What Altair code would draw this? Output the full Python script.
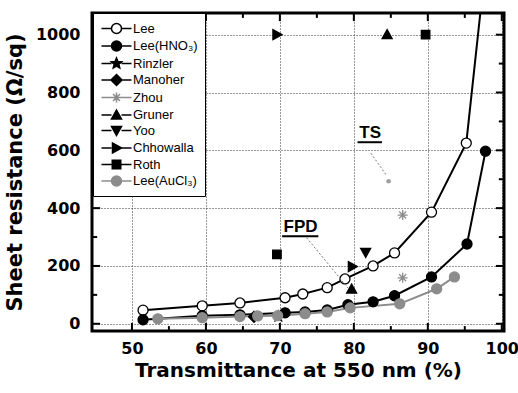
import altair as alt
import pandas as pd

# ---------------- data ----------------
series_names = ["Lee", "Lee(HNO₃)", "Rinzler", "Manoher", "Zhou", "Gruner",
                "Yoo", "Chhowalla", "Roth", "Lee(AuCl₃)"]

lee_x = [51.5, 59.5, 64.6, 70.7, 73.1, 76.4, 78.8, 82.6, 85.5, 90.5, 95.2, 97.5]
lee_y = [47, 62, 72, 90, 103, 125, 155, 200, 245, 386, 625, 1170]

hno3_x = [51.5, 59.5, 64.6, 70.7, 73.4, 76.4, 79.2, 82.6, 85.5, 90.5, 95.3, 97.8]
hno3_y = [14, 28, 31, 38, 41, 48, 66, 76, 97, 162, 276, 597]

aucl3_x = [53.5, 59.5, 64.6, 67.0, 69.7, 73.4, 76.4, 79.5, 86.2, 91.2, 93.6]
aucl3_y = [17, 21, 25, 27, 28, 35, 41, 55, 69, 121, 162]

rinzler_x = [69.8]
rinzler_y = [25]
manoher_x = [66.5]
manoher_y = [24]
zhou_x = [86.6, 86.6]
zhou_y = [376, 159]
gruner_x = [79.7, 84.5]
gruner_y = [120, 1000]
yoo_x = [81.6]
yoo_y = [247]
chhowalla_x = [69.6, 79.8]
chhowalla_y = [1000, 198]
roth_x = [69.6, 89.7]
roth_y = [240, 1000]

annot_text = ["TS", "FPD"]
annot_x = [82.2, 72.8]
annot_y = [659, 334]
underline_x = [80.5, 70.3]
underline_x2 = [83.8, 75.2]
underline_y = [628, 303]
leader_x = [82.3, 73.6]
leader_y = [590, 298]
leader_x2 = [84.4, 79.4]
leader_y2 = [514, 118]
ts_dot_x = [84.7]
ts_dot_y = [493]

x_domain = [44.6, 100.3]
y_domain = [-25, 1075]
x_major = [50, 60, 70, 80, 90, 100]
x_minor = [55, 65, 75, 85, 95]
y_major = [0, 200, 400, 600, 800, 1000]
y_minor = [100, 300, 500, 700, 900]
# inward tick lengths in data units (major, minor)
x_tick_len = [1.1, 0.7]    # for ticks on the left/right edges
y_tick_len = [28, 17]      # for ticks on the bottom/top edges

# ---------------- tables ----------------
rows = []
for name, xs_, ys_ in [
    ("Lee", lee_x, lee_y), ("Lee(HNO₃)", hno3_x, hno3_y),
    ("Rinzler", rinzler_x, rinzler_y), ("Manoher", manoher_x, manoher_y),
    ("Zhou", zhou_x, zhou_y), ("Gruner", gruner_x, gruner_y),
    ("Yoo", yoo_x, yoo_y), ("Chhowalla", chhowalla_x, chhowalla_y),
    ("Roth", roth_x, roth_y), ("Lee(AuCl₃)", aucl3_x, aucl3_y)]:
    for i, (a, b) in enumerate(zip(xs_, ys_)):
        rows.append({"series": name, "x": a, "y": b, "i": i})
pts = pd.DataFrame(rows)
line_series = ["Lee", "Lee(HNO₃)", "Lee(AuCl₃)"]
lines_df = pts[pts.series.isin(line_series)]

annot = pd.DataFrame({"t": annot_text, "x": annot_x, "y": annot_y})
under = pd.DataFrame({"x": underline_x, "x2": underline_x2, "y": underline_y})
lead = pd.DataFrame({"x": leader_x, "y": leader_y, "x2": leader_x2, "y2": leader_y2})
tsdot = pd.DataFrame({"x": ts_dot_x, "y": ts_dot_y})
frame = pd.DataFrame({"x": [x_domain[0]], "x2": [x_domain[1]],
                      "y": [y_domain[0]], "y2": [y_domain[1]]})

xt_rows, yt_rows = [], []
for edge, sgn in [(y_domain[0], 1), (y_domain[1], -1)]:
    xt_rows += [{"v": v, "a": edge, "b": edge + sgn * y_tick_len[0]} for v in x_major]
    xt_rows += [{"v": v, "a": edge, "b": edge + sgn * y_tick_len[1]} for v in x_minor]
for edge, sgn in [(x_domain[0], 1), (x_domain[1], -1)]:
    yt_rows += [{"v": v, "a": edge, "b": edge + sgn * x_tick_len[0]} for v in y_major]
    yt_rows += [{"v": v, "a": edge, "b": edge + sgn * x_tick_len[1]} for v in y_minor]
xt = pd.DataFrame(xt_rows)
yt = pd.DataFrame(yt_rows)

# ---------------- styles ----------------
circle = "M-1,0A1,1 0 1,0 1,0A1,1 0 1,0 -1,0Z"
star = "M0,-1.1L0.29,-0.4L1.05,-0.34L0.47,0.15L0.65,0.89L0,0.5L-0.65,0.89L-0.47,0.15L-1.05,-0.34L-0.29,-0.4Z"
diamond = "M0,-1.1L1.1,0L0,1.1L-1.1,0Z"
aster = "M-1,0H1M0,-1V1M-0.7,-0.7L0.7,0.7M-0.7,0.7L0.7,-0.7"
tri_up = "M0,-1L1,0.8H-1Z"
tri_down = "M0,1L1,-0.8H-1Z"
tri_right = "M1,0L-0.8,-1V1Z"
square = "M-0.85,-0.85H0.85V0.85H-0.85Z"
marker_paths = [circle, circle, star, diamond, aster, tri_up, tri_down,
                tri_right, square, circle]
stub = "M-3,0H-1M1,0H3"
legend_paths = [stub + p for p in marker_paths]

GRAY = "#8c8c8c"
fills = ["white", "black", "black", "black", "transparent", "black", "black",
         "black", "black", GRAY]
strokes = ["black", "black", "black", "black", GRAY, "black", "black",
           "black", "black", GRAY]

FONT = "Liberation Sans"
AXFONT = "DejaVu Sans"
xs = alt.Scale(domain=x_domain, nice=False, zero=False)
ys = alt.Scale(domain=y_domain, nice=False, zero=False)


def main_axis(orient, values, title, pad, tpad, tsize):
    return alt.Axis(orient=orient, values=values, ticks=False, tickSize=0,
                    domain=False, grid=True, gridColor="#333333", gridDash=[1, 2],
                    gridWidth=1, format="d", labelFont=AXFONT,
                    labelFontWeight="bold", labelFontSize=16, labelColor="black",
                    labelPadding=pad, title=title, titleFont=AXFONT,
                    titleFontWeight="bold", titleFontSize=tsize,
                    titleColor="black", titlePadding=tpad)


lines = alt.Chart(lines_df).mark_line(clip=True).encode(
    x=alt.X("x:Q", scale=xs, axis=main_axis("bottom", x_major,
                                            "Transmittance at 550 nm (%)", 9, 4, 20)),
    y=alt.Y("y:Q", scale=ys, axis=main_axis("left", y_major,
                                            "Sheet resistance (Ω/sq)", 12, 10, 21)),
    stroke=alt.Stroke("series:N", scale=alt.Scale(domain=line_series,
                      range=["black", "black", GRAY]), legend=None),
    strokeWidth=alt.StrokeWidth("series:N", scale=alt.Scale(domain=line_series,
                                range=[2, 2, 3.5]), legend=None),
    order="i:Q",
)

points = alt.Chart(pts).mark_point(clip=True, opacity=1, strokeWidth=1.3, size=100).encode(
    x=alt.X("x:Q", scale=xs, axis=None),
    y=alt.Y("y:Q", scale=ys, axis=None),
    shape=alt.Shape("series:N", scale=alt.Scale(domain=series_names, range=marker_paths), legend=None),
    fill=alt.Fill("series:N", scale=alt.Scale(domain=series_names, range=fills), legend=None),
    stroke=alt.Stroke("series:N", scale=alt.Scale(domain=series_names, range=strokes), legend=None),
)

texts = alt.Chart(annot).mark_text(font=FONT, fontWeight="bold", fontSize=17,
                                   align="center", baseline="middle", color="black").encode(
    x=alt.X("x:Q", scale=xs, axis=None),
    y=alt.Y("y:Q", scale=ys, axis=None),
    text="t:N",
)

unders = alt.Chart(under).mark_rule(color="black", strokeWidth=2).encode(
    x=alt.X("x:Q", scale=xs, axis=None), x2="x2:Q",
    y=alt.Y("y:Q", scale=ys, axis=None),
)

leads = alt.Chart(lead).mark_rule(color="#777777", strokeWidth=1, strokeDash=[2, 2]).encode(
    x=alt.X("x:Q", scale=xs, axis=None), x2="x2:Q",
    y=alt.Y("y:Q", scale=ys, axis=None), y2="y2:Q",
)

dot = alt.Chart(tsdot).mark_point(filled=True, opacity=1, size=22, color="#a0a0a0").encode(
    x=alt.X("x:Q", scale=xs, axis=None),
    y=alt.Y("y:Q", scale=ys, axis=None),
)

# inward ticks on all four sides
xtick_layer = alt.Chart(xt).mark_rule(color="black", strokeWidth=2).encode(
    x=alt.X("v:Q", scale=xs, axis=None),
    y=alt.Y("a:Q", scale=ys, axis=None), y2="b:Q",
)
ytick_layer = alt.Chart(yt).mark_rule(color="black", strokeWidth=2).encode(
    y=alt.Y("v:Q", scale=ys, axis=None),
    x=alt.X("a:Q", scale=xs, axis=None), x2="b:Q",
)

# heavy frame around the plot area
frame_layer = alt.Chart(frame).mark_rect(filled=False, stroke="black", strokeWidth=3,
                                         fillOpacity=0).encode(
    x=alt.X("x:Q", scale=xs, axis=None), x2="x2:Q",
    y=alt.Y("y:Q", scale=ys, axis=None), y2="y2:Q",
)

leg = alt.Legend(title=" ", titleFontSize=2, titlePadding=0, orient="none",
                 legendX=1, legendY=0, padding=7,
                 rowPadding=0.5, labelFont=FONT, labelFontSize=13, labelColor="black",
                 labelOffset=10, symbolOffset=10, symbolSize=100, symbolStrokeWidth=1.5,
                 strokeColor="black", fillColor="white", labelLimit=200)

legend_layer = alt.Chart(pts).transform_filter("false").mark_point(opacity=1).encode(
    x=alt.X("x:Q", scale=xs, axis=None),
    y=alt.Y("y:Q", scale=ys, axis=None),
    shape=alt.Shape("series:N", scale=alt.Scale(domain=series_names, range=legend_paths), legend=leg),
    fill=alt.Fill("series:N", scale=alt.Scale(domain=series_names, range=fills), legend=leg),
    stroke=alt.Stroke("series:N", scale=alt.Scale(domain=series_names, range=strokes), legend=leg),
)

chart = alt.layer(lines, points, texts, unders, leads, dot, xtick_layer, ytick_layer,
                  frame_layer, legend_layer).resolve_scale(
    shape="independent", fill="independent", stroke="independent",
    strokeWidth="independent",
).resolve_axis(x="independent", y="independent").properties(
    width=412, height=318,
    padding={"left": 92, "top": 13, "right": 14, "bottom": 62},
    autosize=alt.AutoSizeParams(type="none"),
).configure_view(stroke="black", strokeWidth=3).configure(background="white")

chart.save("out.html", embed_options={"renderer": "svg", "actions": False})
